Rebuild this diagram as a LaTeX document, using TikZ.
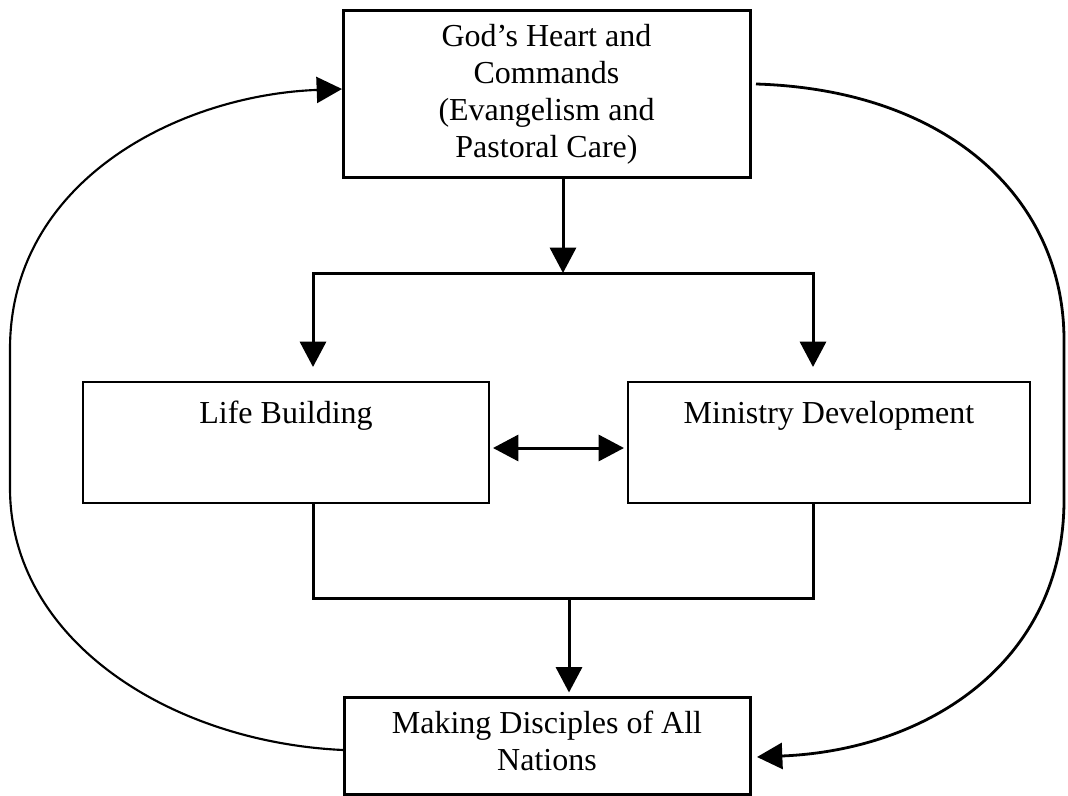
\documentclass[tikz,border=0pt]{standalone}
\usepackage{fontspec}
\setmainfont{Liberation Serif}
\usetikzlibrary{arrows.meta}
\begin{document}
\begin{tikzpicture}[
  x=0.75pt, y=-0.75pt,
  font=\fontsize{24}{27.75}\selectfont,
  heavybox/.style={draw, line width=2.25pt, line join=miter, inner sep=0pt},
  lightbox/.style={draw, line width=1.5pt, line join=miter, inner sep=0pt},
  caption/.style={anchor=north, yshift=-11.5pt, align=center, inner sep=0pt,
                  execute at begin node={\rule{0pt}{20pt}}},
  tipshape/.tip={Triangle[length=19pt, width=19.5pt]},
  flow/.style={line width=2.25pt, line join=miter, -{tipshape}},
  conn/.style={line width=2.25pt, line join=miter},
  both/.style={line width=2.25pt, {tipshape}-{tipshape}},
  loopline/.style={line width=1.6pt, -{tipshape}}
]
\useasboundingbox (0,0) rectangle (1068,796);

% boxes
\node[heavybox, minimum width=305.25pt, minimum height=125.25pt,
      label={[caption]north:{God’s Heart and\\Commands\\(Evangelism and\\Pastoral Care)}}]
      (heart) at (546.5,93.5) {};
\node[lightbox, minimum width=304.5pt, minimum height=90.75pt,
      label={[caption]north:{Life Building}}]
      (life) at (286,442.5) {};
\node[lightbox, minimum width=301.5pt, minimum height=90.75pt,
      label={[caption]north:{Ministry Development}}]
      (ministry) at (829,442.5) {};
\node[heavybox, minimum width=304.5pt, minimum height=72.75pt,
      label={[caption]north:{Making Disciples of All\\Nations}}]
      (disciples) at (547,745.5) {};

% branching points
\coordinate (split) at (563,273);
\coordinate (lb) at (313,273);
\coordinate (rb) at (813,273);
\coordinate (merge) at (569,598);
\coordinate (mid) at (559,448);

% top box splits to both middle boxes
\draw[flow] (heart.south -| split) -- (split);
\draw[flow, shorten >=10.5pt] (split) -| (life.north -| lb);
\draw[flow, shorten >=10.5pt] (split) -| (ministry.north -| rb);

% two-way link between the middle boxes
\draw[both, shorten <=2.25pt, shorten >=2.25pt] (life.east |- mid) -- (ministry.west |- mid);

% middle boxes join and feed the bottom box
\draw[conn] (life.south -| lb) |- (merge) -| (ministry.south -| rb);
\draw[flow, shorten >=2.25pt] (merge) -- (disciples.north -| merge);

% outer cycle
\coordinate (lfoot) at (343,750);
\coordinate (laim) at (342,89);
\coordinate (rtop) at (756,84);
\coordinate (raim) at (757,757);
\draw[loopline] (lfoot) .. controls (170,742) and (10,640) .. (10,488)
  -- (10,349) .. controls (10,180) and (180,95) .. (laim);
\draw[loopline, line width=2.1pt] (rtop) .. controls (950,90) and (1064,200) .. (1064,340)
  -- (1064,500) .. controls (1064,660) and (930,750) .. (raim);
\end{tikzpicture}
\end{document}
